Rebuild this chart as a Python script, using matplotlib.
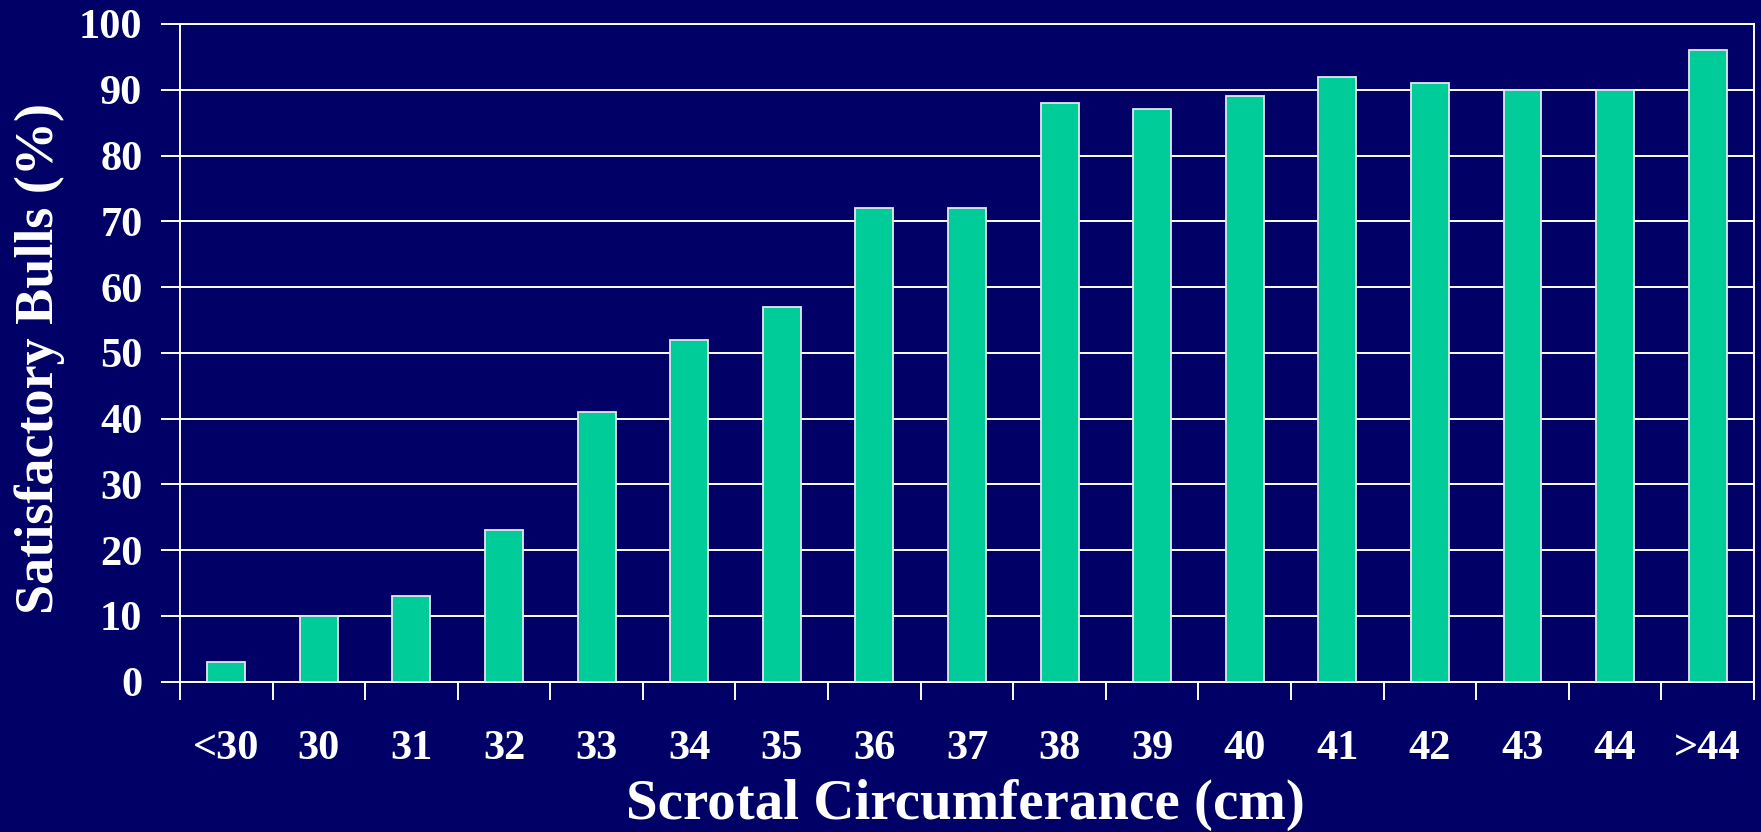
import matplotlib
matplotlib.use("Agg")
import matplotlib.pyplot as plt
from matplotlib.ticker import FixedLocator, NullFormatter
import numpy as np

categories = ["<30", "30", "31", "32", "33", "34", "35", "36", "37",
              "38", "39", "40", "41", "42", "43", "44", ">44"]
satisfactory_pct = [3, 10, 13, 23, 41, 52, 57, 72, 72,
                    88, 87, 89, 92, 91, 90, 90, 96]
y_ticks = [0, 10, 20, 30, 40, 50, 60, 70, 80, 90, 100]

BG = "#000066"
BAR = "#00CC99"
FG = "white"

plt.rcParams["font.family"] = ["Liberation Serif", "DejaVu Serif"]
plt.rcParams["font.weight"] = "bold"

fig = plt.figure(figsize=(17.61, 8.32), dpi=100, facecolor=BG)
ax = fig.add_axes([0.1022, 0.1806, 0.996 - 0.1022, 0.9712 - 0.1806])
ax.set_facecolor(BG)

x = np.arange(len(categories))
ax.bar(x, satisfactory_pct, width=0.41, color=BAR, edgecolor="#E6E6F0",
       linewidth=1.3, zorder=3)

ax.set_xlim(-0.5, len(categories) - 0.5)
ax.set_ylim(0, 100)

ax.set_yticks(y_ticks)
ax.set_yticklabels([str(t) for t in y_ticks])
ax.yaxis.grid(True, color=FG, linewidth=1.4, zorder=1)
ax.tick_params(axis="y", colors=FG, labelcolor=FG, length=14, width=1.4,
               pad=13, labelsize=30.5)

ax.set_xticks(x)
ax.set_xticklabels(categories)
ax.xaxis.set_minor_locator(FixedLocator(np.arange(len(categories) + 1) - 0.5))
ax.xaxis.set_minor_formatter(NullFormatter())
ax.tick_params(axis="x", which="major", length=0, pad=35, labelcolor=FG,
               labelsize=30.5)
ax.tick_params(axis="x", which="minor", length=13, width=1.4, color=FG)

for side in ["left", "right", "top", "bottom"]:
    ax.spines[side].set_color(FG)
    ax.spines[side].set_linewidth(1.4)

fig.text(965 / 1761, 1 - 805 / 832, "Scrotal Circumferance (cm)", color=FG,
         fontsize=41, fontweight="bold", ha="center", va="center")
fig.text(40 / 1761, 1 - 358 / 832, "Satisfactory Bulls (%)", color=FG,
         fontsize=39, fontweight="bold", ha="center", va="center",
         rotation=90)

fig.savefig("out.png", dpi=100, facecolor=BG)
